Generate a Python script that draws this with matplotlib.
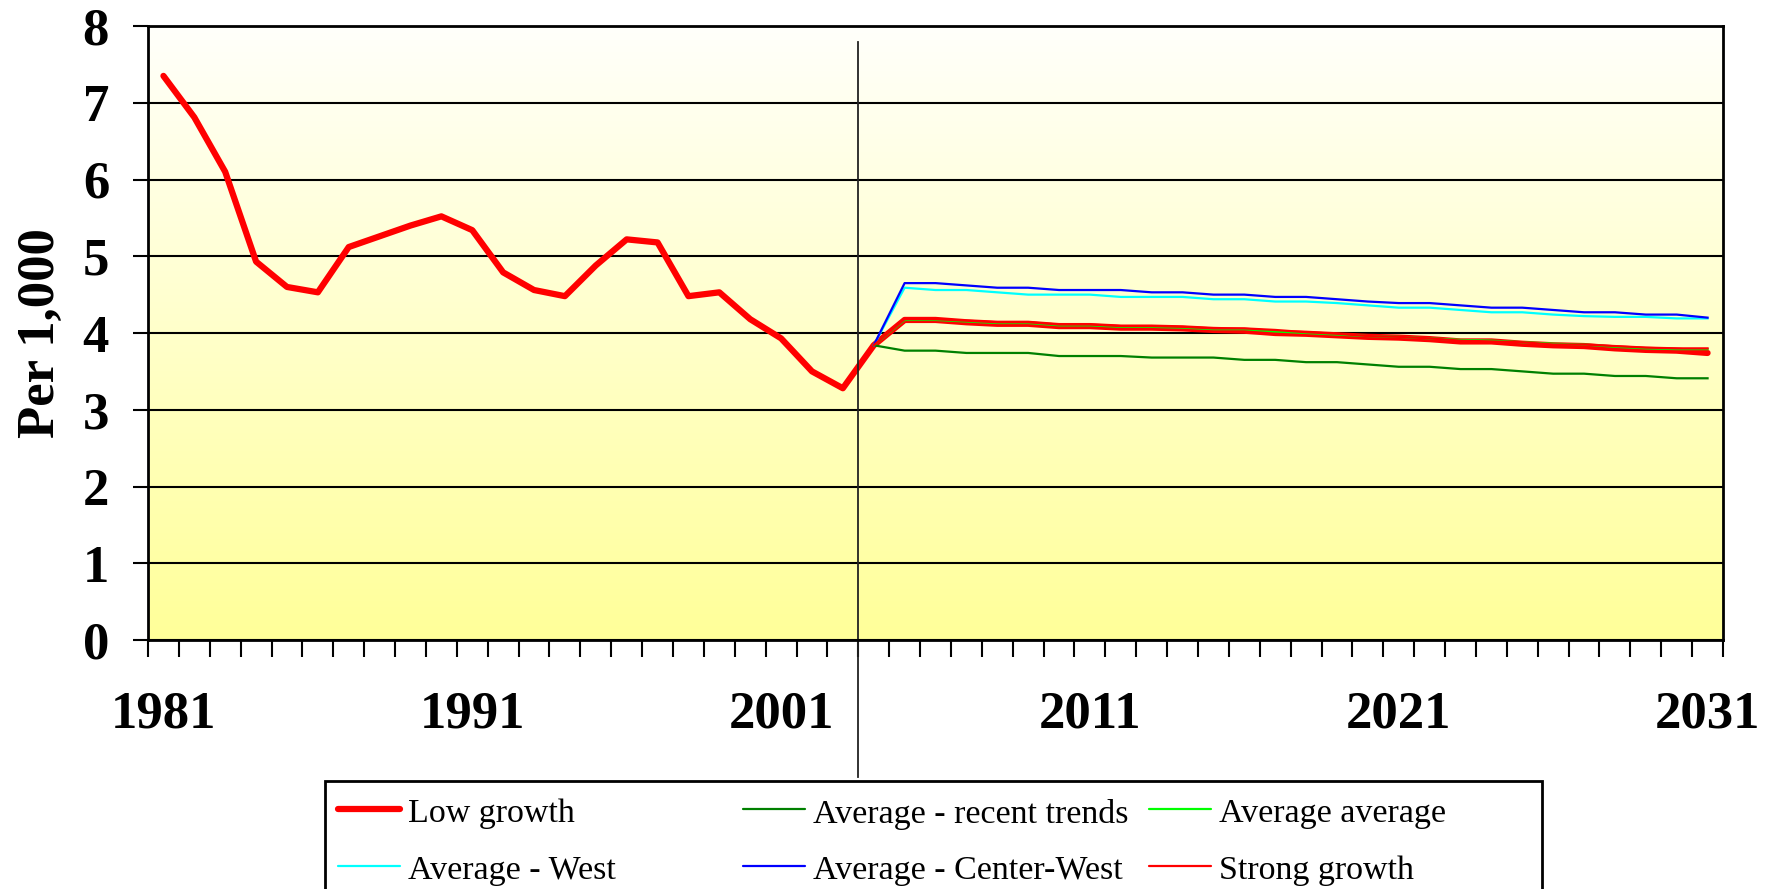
import numpy as np
import matplotlib
matplotlib.use("Agg")
import matplotlib.pyplot as plt
from matplotlib.colors import LinearSegmentedColormap
from matplotlib.lines import Line2D
from matplotlib.patches import Rectangle

plt.rcParams["font.family"] = ["Liberation Serif", "DejaVu Serif"]

# data (per 1,000)
years = list(range(1981, 2032))
low_growth = [7.35, 6.81, 6.10, 4.93, 4.60, 4.53, 5.12, 5.26, 5.40, 5.52,
              5.34, 4.79, 4.56, 4.48, 4.88, 5.22, 5.18, 4.48, 4.53, 4.18,
              3.93, 3.50, 3.28,
              3.84, 4.17, 4.17, 4.14, 4.12, 4.12, 4.09, 4.09, 4.07, 4.07,
              4.06, 4.04, 4.03, 4.00, 3.99, 3.97, 3.95, 3.94, 3.92, 3.89,
              3.89, 3.86, 3.84, 3.83, 3.80, 3.78, 3.77, 3.74]

proj_years = list(range(2004, 2032))
recent_trends = [3.84, 3.77, 3.77, 3.74, 3.74, 3.74, 3.70, 3.70, 3.70, 3.68,
                 3.68, 3.68, 3.65, 3.65, 3.62, 3.62, 3.59, 3.56, 3.56, 3.53,
                 3.53, 3.50, 3.47, 3.47, 3.44, 3.44, 3.41, 3.41]
average_average = [3.84, 4.17, 4.17, 4.15, 4.13, 4.13, 4.10, 4.10, 4.08, 4.08,
                   4.07, 4.05, 4.05, 4.02, 4.00, 3.98, 3.96, 3.95, 3.93, 3.91,
                   3.90, 3.88, 3.86, 3.85, 3.82, 3.80, 3.79, 3.79]
west = [3.84, 4.59, 4.56, 4.56, 4.53, 4.50, 4.50, 4.50, 4.47, 4.47,
        4.47, 4.44, 4.44, 4.41, 4.41, 4.39, 4.36, 4.33, 4.33, 4.30,
        4.27, 4.27, 4.24, 4.22, 4.21, 4.21, 4.19, 4.19]
center_west = [3.84, 4.65, 4.65, 4.62, 4.59, 4.59, 4.56, 4.56, 4.56, 4.53,
               4.53, 4.50, 4.50, 4.47, 4.47, 4.44, 4.41, 4.39, 4.39, 4.36,
               4.33, 4.33, 4.30, 4.27, 4.27, 4.24, 4.24, 4.20]
strong_growth = [3.84, 4.18, 4.18, 4.16, 4.14, 4.14, 4.11, 4.11, 4.09, 4.09,
                 4.08, 4.06, 4.06, 4.04, 4.01, 3.99, 3.96, 3.95, 3.93, 3.90,
                 3.89, 3.88, 3.85, 3.85, 3.83, 3.81, 3.80, 3.80]

series_names = ["Low growth", "Average - recent trends", "Average average",
                "Average - West", "Average - Center-West", "Strong growth"]
label_years = [1981, 1991, 2001, 2011, 2021, 2031]

W, H = 1771, 889
fig = plt.figure(figsize=(W / 100, H / 100), dpi=100)
ax = fig.add_axes([148 / W, 1 - 640 / H, (1723 - 148) / W, (640 - 26) / H])

x_all = np.arange(len(years))
x_proj = np.array([years.index(y) for y in proj_years])

# gradient background, pale yellow at the bottom to near white at the top
bg = LinearSegmentedColormap.from_list("bg", ["#FFFF99", "#FFFFFB"])
ax.imshow(np.linspace(0, 1, 256).reshape(-1, 1), cmap=bg, origin="lower",
          extent=[-0.5, len(years) - 0.5, 0, 8], aspect="auto", zorder=0)

ax.plot(x_all, low_growth, color="#FF0000", lw=4.5, zorder=3,
        solid_capstyle="round", solid_joinstyle="round")
ax.plot(x_proj, recent_trends, color="#008000", lw=1.6, zorder=4)
ax.plot(x_proj, average_average, color="#00FF00", lw=1.6, zorder=4)
ax.plot(x_proj, west, color="#00FFFF", lw=1.6, zorder=4)
ax.plot(x_proj, center_west, color="#0000FF", lw=1.6, zorder=5)
ax.plot(x_proj, strong_growth, color="#FF0000", lw=1.6, zorder=5)

# divider between observed and projected years
split = years.index(proj_years[0]) - 0.5
ax.axvline(split, ymin=-0.223, ymax=0.974, color="#222222", lw=1.3,
           clip_on=False, zorder=6)

ax.set_xlim(-0.5, len(years) - 0.5)
ax.set_ylim(0, 8)
ax.set_yticks(range(9), [str(v) for v in range(9)], fontsize=38, fontweight="bold")
ax.yaxis.grid(True, color="black", lw=1.5)
ax.tick_params(axis="y", direction="out", length=11, width=1.5, pad=17)

ax.set_xticks(np.arange(-0.5, len(years)), labels=[])
ax.set_xticks([years.index(y) for y in label_years], [str(y) for y in label_years],
              minor=True, fontsize=38, fontweight="bold")
ax.tick_params(axis="x", which="major", direction="out", length=12, width=1.5)
ax.tick_params(axis="x", which="minor", length=0, pad=36)

for sp in ax.spines.values():
    sp.set_linewidth(2)
    sp.set_zorder(7)

ax.set_ylabel("Per 1,000", fontsize=38, fontweight="bold")
ax.yaxis.set_label_coords(-0.053, 0.5)

# legend box (Excel style, cut at the bottom of the image)
fig.add_artist(Rectangle((325 / W, -0.1), (1542 - 325) / W, 1 - 781 / H + 0.1,
                         transform=fig.transFigure, facecolor="white",
                         edgecolor="black", lw=2))
colors = ["#FF0000", "#008000", "#00FF00", "#00FFFF", "#0000FF", "#FF0000"]
widths = [4.5, 1.6, 1.6, 1.6, 1.6, 1.6]
col_x = [338, 743, 1149]
row_y = [809, 866]
for i, name in enumerate(series_names):
    cx = col_x[i % 3]
    cy = row_y[i // 3]
    fig.add_artist(Line2D([cx / W, (cx + 62) / W], [1 - cy / H, 1 - cy / H],
                          color=colors[i], lw=widths[i],
                          transform=fig.transFigure, solid_capstyle="round"))
    fig.text((cx + 70) / W, 1 - (cy + 5) / H, name, fontsize=24.5,
             va="center", ha="left")

fig.savefig("out.png", dpi=100)
